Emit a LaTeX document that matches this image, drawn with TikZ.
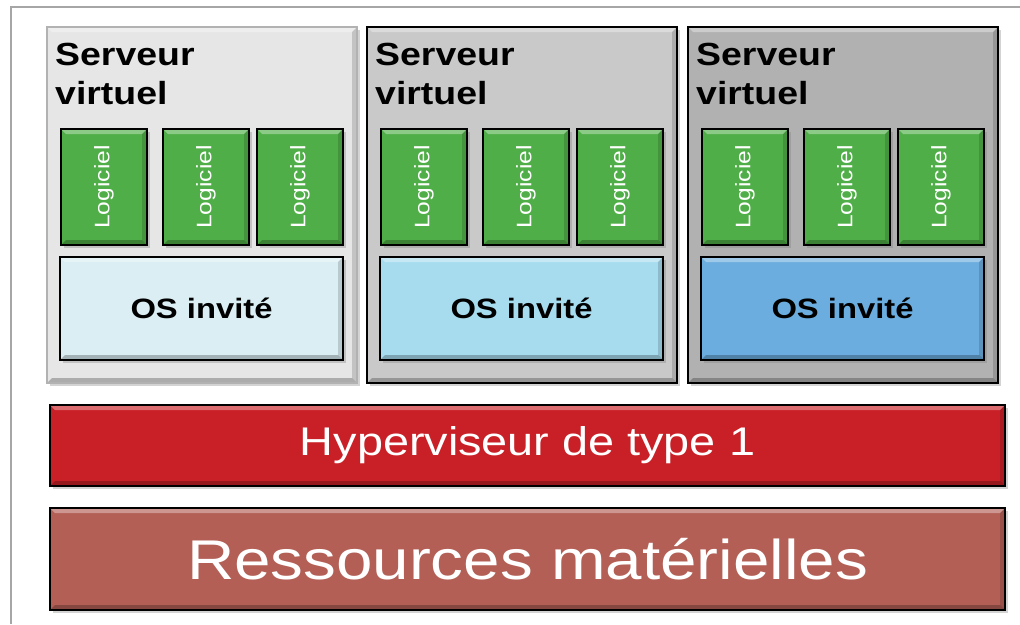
\documentclass[tikz,border=0pt]{standalone}
\usepackage{fontspec}
\setmainfont{Liberation Sans}[FakeStretch=1.17]
\usetikzlibrary{shadows}

\definecolor{srvA}{HTML}{E6E6E6}
\definecolor{srvB}{HTML}{C9C9C9}
\definecolor{srvC}{HTML}{B1B1B1}
\definecolor{osA}{HTML}{DAEEF3}
\definecolor{osB}{HTML}{A7DCEF}
\definecolor{osC}{HTML}{6BADDE}
\definecolor{vert}{HTML}{4FAE47}
\definecolor{rouge}{HTML}{C91F26}
\definecolor{brique}{HTML}{B35F56}

\tikzset{
  bevel/.style={path picture={
    \fill[white,opacity=.35] (path picture bounding box.north west) -- (path picture bounding box.north east)
      -- ([xshift=-5pt,yshift=-5pt]path picture bounding box.north east) -- ([xshift=5pt,yshift=-5pt]path picture bounding box.north west) -- cycle;
    \fill[black,opacity=.25] (path picture bounding box.south west) -- (path picture bounding box.south east)
      -- ([xshift=-5pt,yshift=5pt]path picture bounding box.south east) -- ([xshift=5pt,yshift=5pt]path picture bounding box.south west) -- cycle;
    \fill[black,opacity=.15] (path picture bounding box.north east) -- (path picture bounding box.south east)
      -- ([xshift=-5pt,yshift=5pt]path picture bounding box.south east) -- ([xshift=-5pt,yshift=-5pt]path picture bounding box.north east) -- cycle;}},
  layer/.style={draw=black, line width=1.3pt, inner sep=0pt, bevel,
    drop shadow={shadow xshift=2.5pt, shadow yshift=-2.5pt, opacity=.35}},
  srvbox/.style={layer, minimum width=310, minimum height=356},
  title/.style={inner sep=0pt, align=left, font=\bfseries\fontsize{32}{39}\selectfont},
  logbox/.style={layer, fill=vert, text=white, minimum width=86, minimum height=116,
    font=\fontsize{21}{21}\selectfont},
  osbox/.style={layer, minimum width=283, minimum height=103, font=\bfseries\fontsize{28}{28}\selectfont},
  hypbox/.style={layer, fill=rouge, text=white, minimum width=955, minimum height=81,
    font=\fontsize{40}{40}\selectfont},
  resbox/.style={layer, fill=brique, text=white, minimum width=955, minimum height=102,
    font=\fontsize{56}{56}\selectfont}
}

\begin{document}
\begin{tikzpicture}[x=1pt, y=-1pt]
\useasboundingbox (0,0) rectangle (1020,624);
% cadre
\draw[gray!70, line width=1.2pt] (11,624) -- (11,7) -- (1020,7);

% serveurs virtuels
\foreach \i/\x/\bg/\os/\ln in {1/47/srvA/osA/gray!60, 2/367/srvB/osB/black, 3/688/srvC/osC/black}{
  \node[srvbox, fill=\bg, draw=\ln] (srv\i) at (\x+155,205) {};
  \node[title, anchor=north west] (titre\i) at (\x+8,43) {Serveur\\virtuel};
  \foreach \j/\dx in {1/57,2/159,3/253}
    \node[logbox] (log\i\j) at (\x+\dx,187) {\rotatebox{90}{Logiciel}};
  \node[osbox, fill=\os] (os\i) at (\x+154.5,308.5) {OS invité};
}

% couches du bas
\node[hypbox] (hyp) at (527.5,445.5) {Hyperviseur de type 1};
\node[resbox] (res) at (527.5,559) {Ressources matérielles};
\end{tikzpicture}
\end{document}
